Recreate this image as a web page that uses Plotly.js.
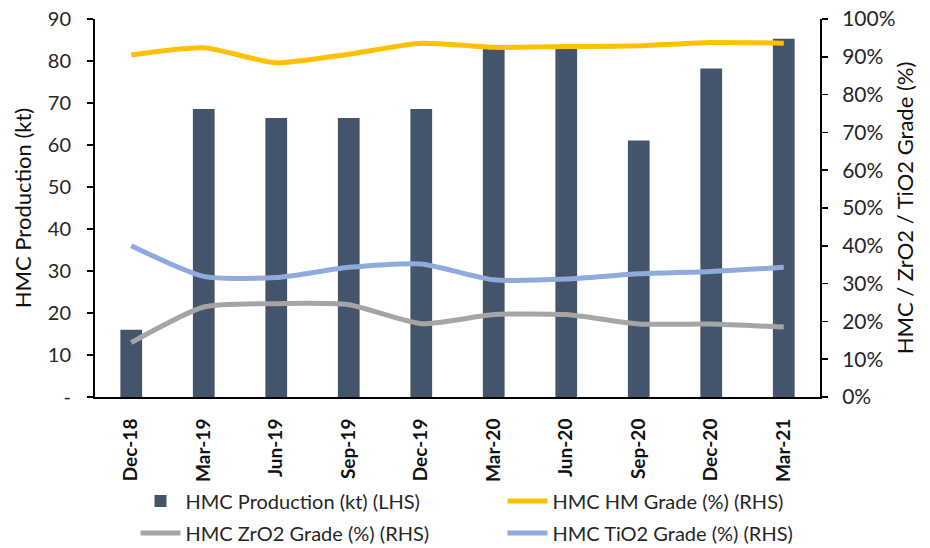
<!DOCTYPE html>
<html>
<head>
<meta charset="utf-8">
<script src="https://cdn.plot.ly/plotly-3.0.1.min.js"></script>
<style>html,body{margin:0;padding:0;background:#fff;}#chart{width:930px;height:548px;}</style>
</head>
<body>
<div id="chart"></div>
<script>
const categories = ["Dec-18","Mar-19","Jun-19","Sep-19","Dec-19","Mar-20","Jun-20","Sep-20","Dec-20","Mar-21"];
const production = [16.0, 68.6, 66.4, 66.4, 68.6, 83.0, 83.0, 61.1, 78.2, 85.3];
const hmGrade   = [0.905, 0.924, 0.884, 0.907, 0.936, 0.925, 0.927, 0.929, 0.938, 0.936];
const zro2Grade = [0.144, 0.238, 0.247, 0.244, 0.194, 0.218, 0.218, 0.193, 0.193, 0.185];
const tio2Grade = [0.400, 0.319, 0.316, 0.343, 0.352, 0.310, 0.312, 0.326, 0.332, 0.343];
const leftTickVals = [0,10,20,30,40,50,60,70,80,90];
const leftTickText = ["-","10","20","30","40","50","60","70","80","90"];

const FONT = "Lato, 'Open Sans', sans-serif";
const TXT = "#262626";
const lineCommon = {type:"scatter", mode:"lines", yaxis:"y2", line:{width:5, shape:"spline", smoothing:0.6}};

const traces = [
  {type:"bar", name:"HMC Production (kt) (LHS)", x:categories, y:production, marker:{color:"#44546A"}, width:0.3, legend:"legend"},
  Object.assign({}, lineCommon, {name:"HMC HM Grade (%) (RHS)", x:categories, y:hmGrade, legend:"legend2", line:Object.assign({}, lineCommon.line, {color:"#FFC000"})}),
  Object.assign({}, lineCommon, {name:"HMC ZrO2 Grade (%) (RHS)", x:categories, y:zro2Grade, legend:"legend3", line:Object.assign({}, lineCommon.line, {color:"#A5A5A5"})}),
  Object.assign({}, lineCommon, {name:"HMC TiO2 Grade (%) (RHS)", x:categories, y:tio2Grade, legend:"legend4", line:Object.assign({}, lineCommon.line, {color:"#8FAADC"})})
];

function leg(xpx, ypx) {
  return {
    orientation:"h", xref:"container", yref:"container",
    x:xpx/930, y:1 - ypx/548, xanchor:"left", yanchor:"middle",
    font:{size:20, color:TXT}, itemwidth:40,
    bgcolor:"rgba(0,0,0,0)"
  };
}

const layout = {
  width:930, height:548,
  margin:{l:95, r:110, t:19, b:151},
  paper_bgcolor:"#fff", plot_bgcolor:"#fff",
  font:{family:FONT, size:18, color:TXT},
  showlegend:true,
  xaxis:{
    type:"category", showgrid:false, zeroline:false,
    showline:true, linecolor:"#000", linewidth:2,
    ticks:"outside", ticklen:12, tickcolor:"rgba(0,0,0,0)", tickangle:-90,
    tickfont:{size:19, color:"#111", family:FONT, weight:"bold"}
  },
  yaxis:{
    range:[0,90], tickvals:leftTickVals, ticktext:leftTickText,
    showgrid:false, zeroline:false, showline:true, linecolor:"#000", linewidth:2,
    ticks:"outside", ticklen:6, tickcolor:"#000", tickwidth:1.5, ticklabelstandoff:12,
    tickfont:{size:20, color:TXT},
    title:{text:"HMC Production (kt)", font:{size:22, color:"#111"}, standoff:10}
  },
  yaxis2:{
    overlaying:"y", side:"right", range:[0,1], dtick:0.1, tickformat:".0%",
    showgrid:false, zeroline:false, showline:true, linecolor:"#000", linewidth:2,
    ticks:"outside", ticklen:6, tickcolor:"#000", tickwidth:1.5, ticklabelstandoff:10,
    tickfont:{size:21, color:TXT},
    title:{text:"HMC / ZrO2 / TiO2 Grade (%)", font:{size:22, color:"#111"}, standoff:3}
  },
  legend:leg(135.5, 501),
  legend2:leg(502.5, 501),
  legend3:leg(135.5, 533),
  legend4:leg(502.5, 533)
};

Plotly.newPlot("chart", traces, layout, {displayModeBar:false, staticPlot:true});
</script>
</body>
</html>
